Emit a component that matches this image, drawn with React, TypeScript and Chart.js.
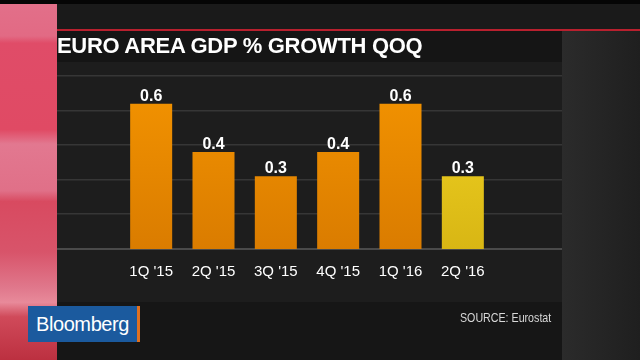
import React, { useEffect, useRef } from "react";
import { Chart, registerables } from "chart.js";

Chart.register(...registerables);

const categories = ["1Q '15", "2Q '15", "3Q '15", "4Q '15", "1Q '16", "2Q '16"];
const growth = [0.6, 0.4, 0.3, 0.4, 0.6, 0.3];
const valueLabels = ["0.6", "0.4", "0.3", "0.4", "0.6", "0.3"];
const highlightIndex = 5;
const gridStep = 1 / 7;
const gridCount = 5;

const FONT = '"Liberation Sans", Arial, Helvetica, sans-serif';

const backgroundPlugin = {
  id: "bgPlugin",
  beforeDraw(chart: any) {
    const ctx = chart.ctx as CanvasRenderingContext2D;
    const W = chart.width;
    const H = chart.height;
    ctx.save();
    ctx.fillStyle = "#1a1a1a";
    ctx.fillRect(0, 0, W, H);
    const rg = ctx.createLinearGradient(562, 0, W, 0);
    rg.addColorStop(0, "#2b2b2b");
    rg.addColorStop(1, "#1f1f1f");
    ctx.fillStyle = rg;
    ctx.fillRect(562, 31, W - 562, H - 31);
    ctx.fillStyle = "#161616";
    ctx.fillRect(57, 302, 505, H - 302);
    ctx.fillStyle = "#1d1d1d";
    ctx.fillRect(57, 62, 505, 240);
    ctx.fillStyle = "#151515";
    ctx.fillRect(52, 31, 510, 31);
    ctx.fillStyle = "#b8202e";
    ctx.fillRect(52, 29, W - 52, 2);
    ctx.fillStyle = "#050505";
    ctx.fillRect(0, 0, W, 4);
    const pg = ctx.createLinearGradient(0, 0, 0, H);
    pg.addColorStop(0, "#e2708a");
    pg.addColorStop(0.1, "#e26a84");
    pg.addColorStop(0.12, "#e04c68");
    pg.addColorStop(0.36, "#e04a64");
    pg.addColorStop(0.4, "#e27890");
    pg.addColorStop(0.53, "#e07088");
    pg.addColorStop(0.56, "#d84a60");
    pg.addColorStop(0.7, "#d8546a");
    pg.addColorStop(0.8, "#e0788c");
    pg.addColorStop(0.84, "#e88a9a");
    pg.addColorStop(0.88, "#d04a5a");
    pg.addColorStop(1, "#bc3040");
    ctx.fillStyle = pg;
    ctx.fillRect(0, 4, 57, H - 4);
    const y = chart.scales.y;
    for (let i = 0; i <= gridCount; i++) {
      const py = Math.round(y.getPixelForValue(i * gridStep));
      ctx.fillStyle = i === 0 ? "#4a4a4a" : "#363636";
      ctx.fillRect(57, py - 1, 505, i === 0 ? 2 : 1.5);
    }
    ctx.restore();
  },
};

const valueLabelPlugin = {
  id: "valueLabels",
  afterDatasetsDraw(chart: any) {
    const ctx = chart.ctx as CanvasRenderingContext2D;
    const meta = chart.getDatasetMeta(0);
    ctx.save();
    ctx.fillStyle = "#ffffff";
    ctx.font = `bold 16px ${FONT}`;
    ctx.textAlign = "center";
    ctx.textBaseline = "alphabetic";
    meta.data.forEach((bar: any, i: number) => {
      ctx.fillText(valueLabels[i], bar.x, bar.y - 3);
    });
    ctx.restore();
  },
};

function barColor(context: any) {
  const chart = context.chart;
  const area = chart.chartArea;
  const isHi = context.dataIndex === highlightIndex;
  if (!area) return isHi ? "#ecc81a" : "#ec8a00";
  const g = chart.ctx.createLinearGradient(0, area.top, 0, area.bottom);
  if (isHi) {
    g.addColorStop(0, "#f4d624");
    g.addColorStop(1, "#d8b614");
  } else {
    g.addColorStop(0, "#f49400");
    g.addColorStop(1, "#da7c00");
  }
  return g;
}

export default function App() {
  const canvasRef = useRef<HTMLCanvasElement | null>(null);

  useEffect(() => {
    const canvas = canvasRef.current;
    if (!canvas) return;
    const chart = new Chart(canvas, {
      type: "bar",
      data: {
        labels: categories,
        datasets: [
          {
            data: growth,
            backgroundColor: barColor as any,
            borderWidth: 0,
            barPercentage: 0.674,
            categoryPercentage: 1,
          },
        ],
      },
      options: {
        responsive: false,
        animation: false,
        layout: { padding: { left: 120, right: 146, top: 76, bottom: 65 } },
        plugins: {
          legend: { display: false },
          tooltip: { enabled: false },
          title: { display: false },
        },
        scales: {
          x: {
            grid: { display: false, drawTicks: false },
            border: { display: false },
            ticks: {
              color: "#ffffff",
              font: { family: FONT, size: 15 },
              padding: 14,
              maxRotation: 0,
            },
          },
          y: {
            min: 0,
            max: gridStep * gridCount,
            grid: { display: false, drawTicks: false },
            border: { display: false },
            ticks: { display: false, stepSize: gridStep },
          },
        },
      },
      plugins: [backgroundPlugin, valueLabelPlugin],
    });
    return () => chart.destroy();
  }, []);

  return (
    <div
      style={{
        position: "fixed",
        left: 0,
        top: 0,
        width: 640,
        height: 360,
        overflow: "hidden",
        background: "#1a1a1a",
        fontFamily: FONT,
      }}
    >
      <canvas ref={canvasRef} width={640} height={360} style={{ position: "absolute", left: 0, top: 0 }} />
      <div
        style={{
          position: "absolute",
          left: 57,
          top: 35,
          fontSize: 22,
          lineHeight: "22px",
          fontWeight: 700,
          color: "#ffffff",
          letterSpacing: -0.3,
          whiteSpace: "nowrap",
        }}
      >
        EURO AREA GDP % GROWTH QOQ
      </div>
      <div
        style={{
          position: "absolute",
          left: 28,
          top: 306,
          width: 109,
          height: 36,
          background: "#1b5a9e",
          borderRight: "3px solid #e07020",
          display: "flex",
          alignItems: "center",
          justifyContent: "center",
          color: "#ffffff",
          fontSize: 20,
          letterSpacing: -0.4,
        }}
      >
        Bloomberg
      </div>
      <div
        style={{
          position: "absolute",
          left: 460,
          top: 310,
          fontSize: 13,
          lineHeight: "16px",
          color: "#d8d8d8",
          whiteSpace: "nowrap",
          transform: "scaleX(0.82)",
          transformOrigin: "left top",
        }}
      >
        SOURCE: Eurostat
      </div>
    </div>
  );
}
